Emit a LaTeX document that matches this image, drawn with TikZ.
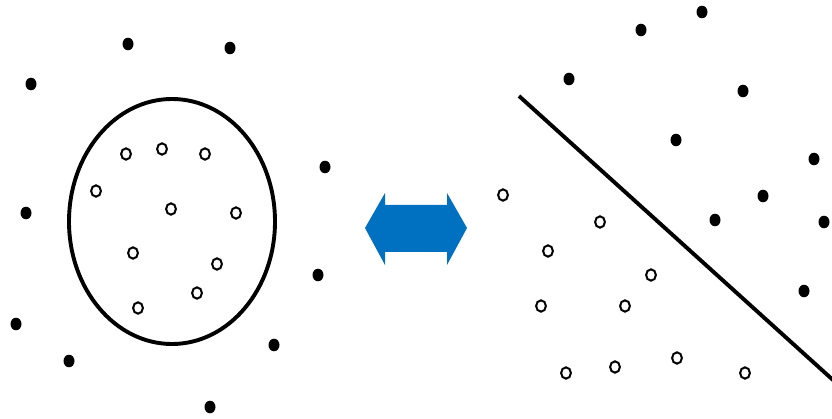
\documentclass[tikz,border=0pt]{standalone}
\begin{document}
\begin{tikzpicture}[x=1pt,y=-1pt,
  border/.style={line width=3.9pt},
  opendot/.style={line width=2pt},
  arrowfill/.style={fill={rgb,255:red,0;green,112;blue,192}}]
\useasboundingbox (0,0) rectangle (832,419);
\fill[white] (0,0) rectangle (832,419);
% left: ellipse
\draw[border] (172,221.5) ellipse [x radius=103, y radius=122.5];
\foreach \x/\y in {128/44,230/48,31/84,325/167,26/213,318/275,16/324,69/361,274/345,210/407,
  702/12,641/30,569/79,743/91,676/140,814/159,763/196,715/220,824/222,804/291}
  \fill (\x,\y) ellipse [x radius=5.5, y radius=6.3];
\foreach \x/\y in {126/154,162/149,205/154,96/191,171/209,236/213,133/253,217/264,197/293,138/308,
  503/195,600/222,548/251,651/275,541/306,625/306,566/373,615/367,677/358,745/373}
  \draw[opendot] (\x,\y) ellipse [x radius=4.9, y radius=5.7];
% arrow
\fill[arrowfill] (365,228) -- (385,193) -- (385,205) -- (447,205) -- (447,193) -- (467,228)
  -- (447,265) -- (447,252) -- (385,252) -- (385,265) -- cycle;
% right: separating line
\draw[border] (519,96) -- (833,380);
\end{tikzpicture}
\end{document}
